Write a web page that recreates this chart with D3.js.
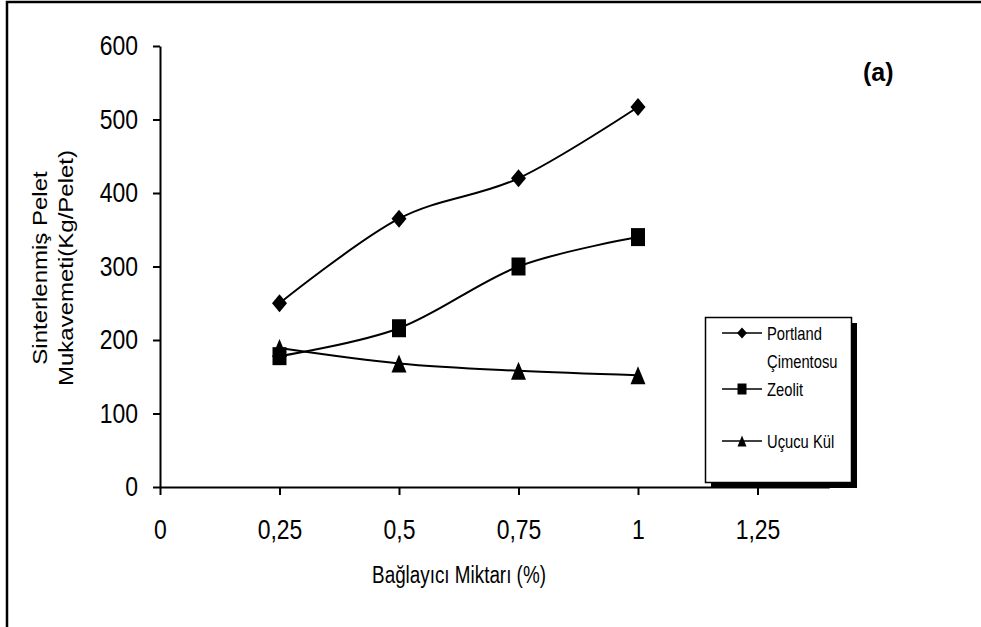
<!DOCTYPE html>
<html>
<head>
<meta charset="utf-8">
<script src="https://cdn.jsdelivr.net/npm/d3@7"></script>
<style>
  body { margin: 0; background: #fff; }
  svg { display: block; }
  text { font-family: "Liberation Sans", Arial, sans-serif; }
</style>
</head>
<body>
<div id="chart"></div>
<script>
// values
var amounts = [0.25, 0.5, 0.75, 1];
var portland = [250, 365, 420, 517];
var zeolit = [178, 216, 300, 340];
var ucucu = [189, 168, 158, 152];

var xTicks = [0, 0.25, 0.5, 0.75, 1, 1.25];
var xTickLabels = ["0", "0,25", "0,5", "0,75", "1", "1,25"];
var yTicks = [0, 100, 200, 300, 400, 500, 600];

var seriesNames = [["Portland", "Çimentosu"], ["Zeolit"], ["Uçucu Kül"]];
var seriesShapes = ["diamond", "square", "triangle"];

var width = 981, height = 627;
var squeeze = 0.82; // the original chart is squeezed sideways

var svg = d3.select("#chart").append("svg")
  .attr("width", width)
  .attr("height", height);

// outer frame (right and bottom edges run off the picture)
svg.append("rect")
  .attr("x", 7).attr("y", 2)
  .attr("width", 1000).attr("height", 700)
  .attr("fill", "none")
  .attr("stroke", "#000")
  .attr("stroke-width", 2.5);

var x = d3.scaleLinear().domain([0, 1.4]).range([160, 160 + 1.4 * 478]);
var y = d3.scaleLinear().domain([0, 600]).range([487, 46]);

// text squeezed sideways, anchored at (tx, ty)
function narrowText(parent, tx, ty, str, size, anchor){
  return parent.append("text")
    .attr("transform", "translate(" + tx + "," + ty + ") scale(" + squeeze + ",1)")
    .attr("text-anchor", anchor || "start")
    .attr("font-size", size)
    .text(str);
}

// y axis
var yAxis = svg.append("g")
  .attr("transform", "translate(160,0)")
  .call(d3.axisLeft(y).tickValues(yTicks).tickSize(7).tickSizeOuter(0).tickPadding(15));

// x axis
var xAxis = svg.append("g")
  .attr("transform", "translate(0,487)")
  .call(d3.axisBottom(x).tickValues(xTicks).tickSize(8).tickSizeOuter(0).tickPadding(24)
    .tickFormat(function(d, i){ return xTickLabels[i]; }));

[yAxis, xAxis].forEach(function(g){
  g.attr("font-family", null).attr("font-size", null);
  g.select(".domain").attr("stroke-width", 2);
  g.selectAll(".tick line").attr("stroke-width", 2);
  g.selectAll(".tick text").each(function(){
    var t = d3.select(this);
    var tx = +t.attr("x") || 0;
    t.attr("x", tx / squeeze)
      .attr("transform", "scale(" + squeeze + ",1)")
      .attr("font-size", 28)
      .attr("fill", "#000");
  });
});

// axis titles
narrowText(svg, 459, 583, "Bağlayıcı Miktarı (%)", 23, "middle");

var yTitle = svg.append("g")
  .attr("transform", "translate(0,268) scale(" + squeeze + ",1) rotate(-90)");
yTitle.append("text")
  .attr("x", 0).attr("y", 47 / squeeze)
  .attr("text-anchor", "middle")
  .attr("font-size", 24)
  .text("Sinterlenmiş Pelet");
yTitle.append("text")
  .attr("x", 0).attr("y", 73 / squeeze)
  .attr("text-anchor", "middle")
  .attr("font-size", 24)
  .text("Mukavemeti(Kg/Pelet)");

// marker shapes, a bit taller than wide like the original
function marker(shape, w, h){
  var a = w / 2, b = h / 2;
  if(shape == "diamond") return "M0," + (-b) + "L" + a + ",0L0," + b + "L" + (-a) + ",0Z";
  if(shape == "square") return "M" + (-a) + "," + (-b) + "H" + a + "V" + b + "H" + (-a) + "Z";
  return "M0," + (-b) + "L" + a + "," + b + "H" + (-a) + "Z";
}

var line = d3.line()
  .x(function(d){ return x(d[0]); })
  .y(function(d){ return y(d[1]); })
  .curve(d3.curveCatmullRom.alpha(0));

var allSeries = [portland, zeolit, ucucu];
allSeries.forEach(function(values){
  var pts = amounts.map(function(a, i){ return [a, values[i]]; });
  svg.append("path")
    .attr("d", line(pts))
    .attr("fill", "none")
    .attr("stroke", "#000")
    .attr("stroke-width", 2);
});
allSeries.forEach(function(values, s){
  var w = s == 1 ? 14 : 15;
  svg.selectAll(".m" + s)
    .data(amounts)
    .enter().append("path")
    .attr("class", "m" + s)
    .attr("transform", function(d, i){
      return "translate(" + x(d) + "," + y(values[i]) + ")";
    })
    .attr("d", marker(seriesShapes[s], w, 18))
    .attr("fill", "#000");
});

// legend
var legend = svg.append("g");
legend.append("rect")
  .attr("x", 711).attr("y", 323)
  .attr("width", 146).attr("height", 165)
  .attr("fill", "#000");
legend.append("rect")
  .attr("x", 705.5).attr("y", 317.5)
  .attr("width", 146).attr("height", 165)
  .attr("fill", "#fff")
  .attr("stroke", "#000")
  .attr("stroke-width", 1.5);

var legendY = [333, 389, 441];
seriesNames.forEach(function(names, s){
  var ly = legendY[s];
  legend.append("line")
    .attr("x1", 722).attr("x2", 762)
    .attr("y1", ly).attr("y2", ly)
    .attr("stroke", "#000")
    .attr("stroke-width", 1.5);
  legend.append("path")
    .attr("transform", "translate(742," + ly + ")")
    .attr("d", marker(seriesShapes[s], s == 0 ? 10 : 9, 11))
    .attr("fill", "#000");
  names.forEach(function(name, k){
    narrowText(legend, 767, ly + 6.5 + k * 28, name, 18);
  });
});

// panel label
svg.append("text")
  .attr("x", 863).attr("y", 81)
  .attr("font-family", "Lato, Open Sans, sans-serif")
  .attr("font-weight", "bold")
  .attr("font-size", 25)
  .text("(a)");
</script>
</body>
</html>
